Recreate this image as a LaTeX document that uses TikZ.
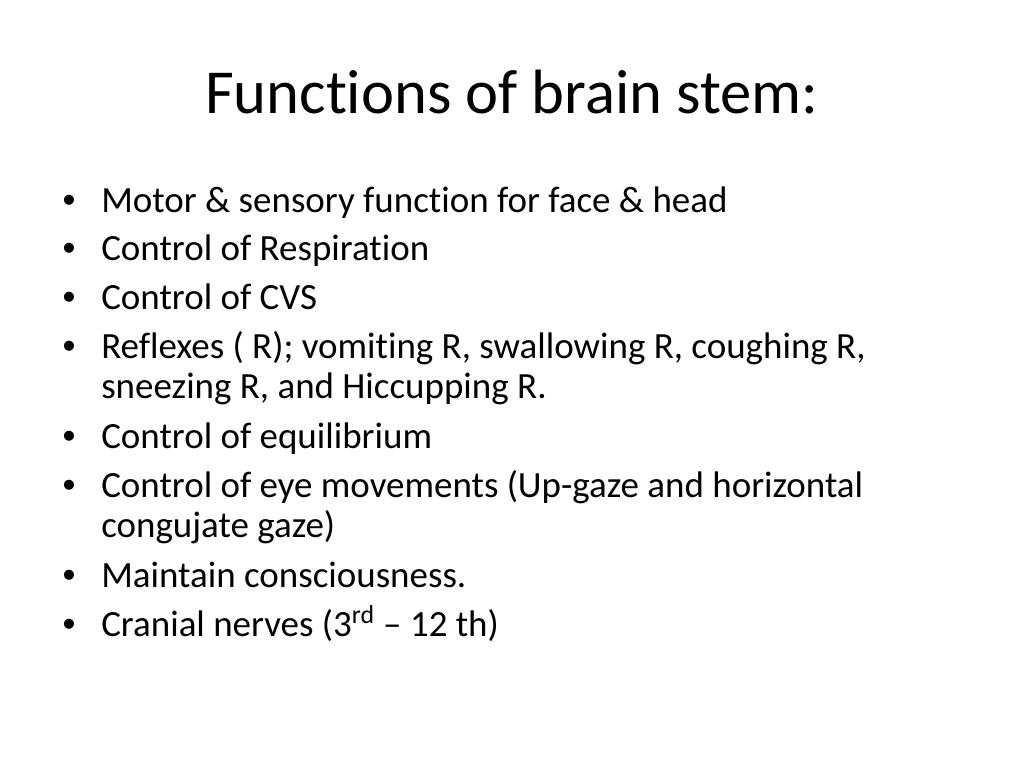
\documentclass[tikz,border=0pt]{standalone}
\usepackage{fontspec}
\setmainfont{Carlito}[Ligatures=NoCommon]
\newfontfamily\dotfont{Liberation Sans}
\usetikzlibrary{positioning}

\begin{document}
\begin{tikzpicture}[
        x=0.703125pt, y=-0.703125pt, % one unit = one pixel of the slide
        slidetitle/.style={font=\fontsize{44}{53}\selectfont, anchor=base, inner sep=0pt},
        item/.style={font=\fontsize{26}{31}\selectfont, anchor=base west, inner sep=0pt},
        dot/.style={font=\dotfont\fontsize{26}{31}\selectfont, anchor=base, inner sep=0pt}
    ]
    \useasboundingbox[fill=white] (0,0) rectangle (1024,768);

    \node[slidetitle] (title) at (512,114) {Functions of brain stem:};

    % bullet items
    \node[dot] (b1) at (69,213) {•};
    \node[item] (motor) at (101,213) {Motor \& sensory function for face \& head};
    \node[dot] (b2) at (69,261) {•};
    \node[item] (resp) at (101,261) {Control of Respiration};
    \node[dot] (b3) at (69,309) {•};
    \node[item] (cvs) at (101,309) {Control of CVS};
    \node[dot] (b4) at (69,358) {•};
    \node[item] (reflex) at (101,358) {Reflexes ( R); vomiting R, swallowing R, coughing R,};
    \node[item] (reflexb) at (101,398) {sneezing R, and Hiccupping R.};
    \node[dot] (b5) at (69,448) {•};
    \node[item] (equil) at (101,448) {Control of equilibrium};
    \node[dot] (b6) at (69,497) {•};
    \node[item] (eye) at (101,497) {Control of eye movements (Up-gaze and horizontal};
    \node[item] (eyeb) at (101,537) {congujate gaze)};
    \node[dot] (b7) at (69,587) {•};
    \node[item] (consc) at (101,587) {Maintain consciousness.};
    \node[dot] (b8) at (69,636) {•};
    \node[item] (nerves) at (101,636) {Cranial nerves (3\textsuperscript{rd} – 12 th)};
\end{tikzpicture}
\end{document}
